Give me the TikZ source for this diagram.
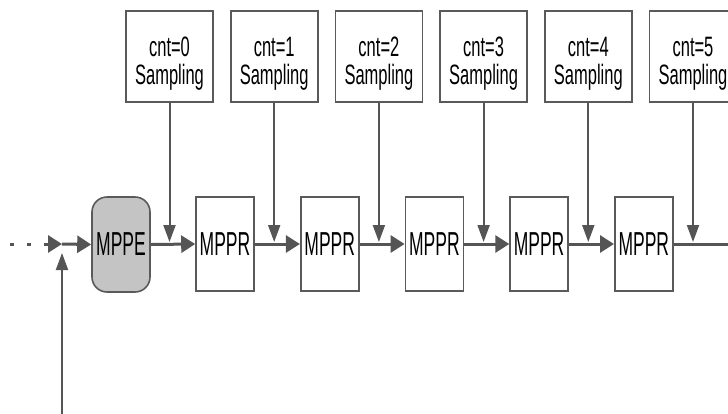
\documentclass[tikz,border=0pt]{standalone}
\usepackage{fontspec}
\setmainfont{Liberation Sans}
\usetikzlibrary{arrows.meta}
\definecolor{ln}{HTML}{555555}
\definecolor{bd}{HTML}{5A5A5A}
\definecolor{pe}{HTML}{C4C4C4}
\newcommand{\toptext}[2]{\scalebox{1}[1.7]{\fontsize{16.5}{15.3}\selectfont\begin{tabular}{@{}c@{}}#1\\#2\end{tabular}}}
\newcommand{\boxtext}[1]{\scalebox{1}[1.9]{\fontsize{17.5}{18}\selectfont #1}}
\begin{document}
\begin{tikzpicture}[x=1pt,y=-1pt,
 topbox/.style={draw=bd,line width=1.6pt,fill=white,minimum width=87pt,minimum height=91pt,inner sep=0pt},
 toptxt/.style={inner sep=0pt},
 prbox/.style={draw=bd,line width=1.6pt,fill=white,minimum width=58pt,minimum height=94pt,inner sep=0pt},
 pebox/.style={draw=bd,line width=1.6pt,fill=pe,minimum width=58pt,minimum height=95pt,rounded corners=15pt,inner sep=0pt},
 mainln/.style={draw=ln,line width=3pt},
 tip/.style={-{Triangle[length=14pt,width=17pt]}},
 vln/.style={draw=ln,line width=2pt,-{Triangle[length=17pt,width=12pt]}}]
\useasboundingbox (0,0) rectangle (728,413);
\clip (0,0) rectangle (728,413);
% processing blocks
\node[pebox] (pe) at (121,244.5) {\boxtext{MPPE}};
\node[prbox] (r1) at (225,244) {\boxtext{MPPR}};
\node[prbox] (r2) at (329.7,244) {\boxtext{MPPR}};
\node[prbox] (r3) at (434.4,244) {\boxtext{MPPR}};
\node[prbox] (r4) at (539.1,244) {\boxtext{MPPR}};
\node[prbox] (r5) at (643.8,244) {\boxtext{MPPR}};
% sampling boxes
\node[topbox] (t0) at (169.5,56.5) {};
\node[topbox] (t1) at (274.2,56.5) {};
\node[topbox] (t2) at (378.9,56.5) {};
\node[topbox] (t3) at (483.6,56.5) {};
\node[topbox] (t4) at (588.3,56.5) {};
\node[topbox] (t5) at (693,56.5) {};
\node[toptxt] (x0) at ([yshift=-8pt]t0.center) {\toptext{cnt=0}{Sampling}};
\node[toptxt] (x1) at ([yshift=-8pt]t1.center) {\toptext{cnt=1}{Sampling}};
\node[toptxt] (x2) at ([yshift=-8pt]t2.center) {\toptext{cnt=2}{Sampling}};
\node[toptxt] (x3) at ([yshift=-8pt]t3.center) {\toptext{cnt=3}{Sampling}};
\node[toptxt] (x4) at ([yshift=-8pt]t4.center) {\toptext{cnt=4}{Sampling}};
\node[toptxt] (x5) at ([yshift=-8pt]t5.center) {\toptext{cnt=5}{Sampling}};
% left input
\coordinate (dstart) at (10,244);
\coordinate (dend) at (48,244);
\coordinate (jin) at (62,244);
\coordinate (bot) at (62,420);
\coordinate (out) at (735,244);
\draw[mainln,dash pattern=on 4pt off 13pt] (dstart) -- (dend);
\draw[mainln,tip] (dend) -- (jin);
\draw[vln,shorten >=9pt] (bot) -- (jin);
% main chain
\draw[mainln,tip] (jin) -- (pe.west);
\draw[mainln,tip] (pe.east) -- (r1.west);
\draw[mainln,tip] (r1.east) -- (r2.west);
\draw[mainln,tip] (r2.east) -- (r3.west);
\draw[mainln,tip] (r3.east) -- (r4.west);
\draw[mainln,tip] (r4.east) -- (r5.west);
\draw[mainln] (r5.east) -- (out);
% sampling arrows
\foreach \t in {t0,t1,t2,t3,t4,t5}{
  \draw[vln,shorten >=2.5pt] (\t.south) -- (\t.south |- pe.center);
}
\end{tikzpicture}
\end{document}
